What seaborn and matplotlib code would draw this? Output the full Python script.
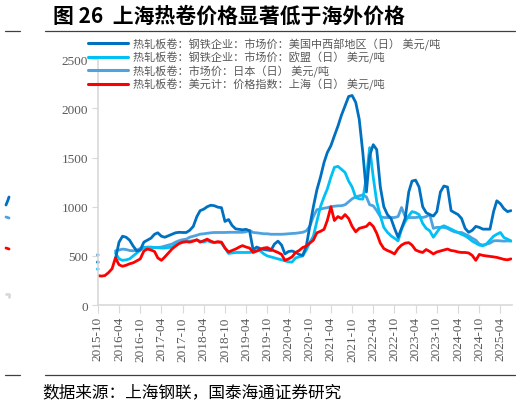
import matplotlib
matplotlib.use("Agg")
import matplotlib.pyplot as plt
import matplotlib.dates as mdates
from matplotlib.lines import Line2D
import numpy as np
import pandas as pd
import seaborn as sns

# monthly readings, 2015-10 .. 2025-07 (values in USD/t)
months = pd.date_range("2015-10-01", periods=118, freq="MS")

us_price = [np.nan] * 5 + [
    470, 640, 700, 690, 660, 600, 550, 560, 640, 660, 680, 720, 735, 700, 690,
    705, 720, 735, 740, 738, 738, 760, 800, 900, 960, 975, 1000, 1015, 1010, 995,
    990, 850, 870, 810, 775, 770, 765, 770, 755, 560, 590, 575, 565, 560, 555,
    620, 650, 610, 520, 545, 550, 535, 515, 505, 600, 800, 1000, 1170, 1300, 1450,
    1550, 1620, 1720, 1820, 1930, 2025, 2120, 2130, 2060, 1890, 1550, 1150, 1520, 1630, 1580,
    1200, 1000, 920, 880, 780, 690, 780, 880, 1150, 1260, 1270, 1200, 1000, 940, 920,
    905, 950, 1150, 1210, 1200, 960, 940, 920, 880, 780, 740, 760, 800, 790, 772,
    772, 772, 950, 1060, 1030, 980, 950, 960]

eu_price = [np.nan] * 5 + [
    530, 470, 455, 460, 470, 500, 530, 560, 585, 590, 590, 585, 585, 580, 580,
    585, 590, 615, 635, 640, 645, 650, 655, 660, 650, 640, 655, 640, 635, 640,
    630, 580, 525, 530, 535, 535, 535, 535, 535, 540, 550, 552, 520, 500, 490,
    480, 470, 460, 450, 440, 437, 480, 490, 500, 560, 637, 700, 850, 1000, 1100,
    1180, 1300, 1400, 1410, 1380, 1348, 1260, 1200, 1094, 1080, 1077, 1300, 1600, 1300, 1050,
    907, 790, 740, 704, 680, 653, 772, 850, 907, 950, 940, 920, 830, 780, 755,
    690, 740, 790, 806, 790, 772, 755, 738, 720, 704, 680, 650, 630, 610, 603,
    620, 660, 700, 720, 738, 687, 670, 653]

jp_price = [np.nan] * 5 + [
    552, 560, 569, 565, 555, 552, 560, 575, 586, 586, 586, 586, 586, 590, 600,
    610, 620, 640, 655, 665, 670, 690, 700, 710, 721, 725, 730, 735, 738, 738,
    738, 738, 740, 740, 740, 740, 740, 745, 760, 738, 735, 730, 725, 725, 720,
    720, 720, 720, 722, 725, 728, 730, 735, 740, 755, 800, 900, 970, 975, 985,
    990, 1000, 1005, 1009, 1010, 1020, 1050, 1080, 1100, 1110, 1120, 1100, 1020, 1009, 960,
    900, 890, 890, 890, 890, 900, 992, 900, 890, 890, 890, 895, 890, 900, 920,
    780, 790, 790, 790, 780, 760, 745, 738, 738, 720, 704, 680, 660, 620, 610,
    620, 630, 653, 655, 653, 650, 653, 650]

sh_price = [
    300, 295, 300, 330, 370, 480, 410, 395, 405, 420, 430, 450, 470, 550, 570,
    560, 545, 480, 455, 490, 530, 570, 600, 625, 640, 645, 640, 650, 665, 640,
    655, 670, 650, 637, 645, 640, 580, 540, 555, 570, 590, 605, 590, 580, 535,
    550, 565, 580, 585, 565, 550, 535, 515, 455, 470, 490, 535, 555, 585, 600,
    630, 660, 735, 750, 770, 860, 1000, 860, 900, 880, 920, 880, 800, 745, 780,
    790, 800, 835, 800, 730, 630, 575, 555, 540, 520, 575, 610, 630, 635, 610,
    560, 545, 535, 565, 545, 520, 540, 550, 560, 570, 555, 550, 540, 535, 535,
    530, 505, 455, 515, 505, 500, 495, 490, 485, 475, 465, 460, 470]

# isolated first readings in 2015-10
first_us, first_eu, first_jp = 437, 366, 510

labels = [
    "热轧板卷：钢铁企业：市场价：美国中西部地区（日） 美元/吨",
    "热轧板卷：钢铁企业：市场价：欧盟（日） 美元/吨",
    "热轧板卷：市场价：日本（日） 美元/吨",
    "热轧板卷：美元计：价格指数：上海（日） 美元/吨",
]
colors = ["#0070C0", "#00C0F4", "#4DA3DF", "#FF0000"]

df = pd.DataFrame({"date": months, "us": us_price, "eu": eu_price,
                   "jp": jp_price, "sh": sh_price})

sns.set_style("white")
plt.rcParams["font.family"] = ["Noto Sans CJK SC", "DejaVu Sans"]

fig = plt.figure(figsize=(5.23, 4.06), dpi=100)
ax = fig.add_axes([0.187, 0.246, 0.792, 0.606])

lw = 2.0
sns.lineplot(data=df, x="date", y="jp", color=colors[2], lw=lw, ax=ax)
sns.lineplot(data=df, x="date", y="eu", color=colors[1], lw=lw, ax=ax)
sns.lineplot(data=df, x="date", y="us", color=colors[0], lw=lw, ax=ax)
sns.lineplot(data=df, x="date", y="sh", color=colors[3], lw=lw, ax=ax)
first = pd.DataFrame({"date": [months[0]] * 3, "v": [first_us, first_eu, first_jp]})
sns.scatterplot(data=first, x="date", y="v", hue=[0, 1, 2],
                palette=[colors[0], colors[1], colors[2]], s=6, linewidth=0,
                legend=False, ax=ax, clip_on=False)

ax.set_ylim(0, 2500)
ax.set_xlim(months[0], pd.Timestamp("2025-07-10"))
ax.set_yticks(range(0, 2501, 500))
ax.xaxis.set_major_locator(mdates.MonthLocator(bymonth=[4, 10]))
ax.xaxis.set_major_formatter(mdates.DateFormatter("%Y-%m"))
ax.set_xlabel("")
ax.set_ylabel("")

for s in ["top", "right"]:
    ax.spines[s].set_visible(False)
for s in ["left", "bottom"]:
    ax.spines[s].set_color("#D9D9D9")
    ax.spines[s].set_linewidth(1.2)

ax.tick_params(axis="both", which="both", direction="out", color="#D9D9D9",
               labelcolor="#595959")
ax.tick_params(axis="y", length=4, pad=3, left=True)
ax.tick_params(axis="x", length=6, pad=2, bottom=True, rotation=90)
for t in ax.get_xticklabels() + ax.get_yticklabels():
    t.set_fontfamily("Liberation Serif")
    t.set_fontsize(9.5)

handles = [Line2D([0], [0], color=c, lw=2.2) for c in colors]
fig.legend(handles, labels, loc="upper left", bbox_to_anchor=(0.168, 0.905),
           frameon=False, fontsize=8, handlelength=3.6, handletextpad=0.5,
           labelspacing=0.12, borderpad=0, borderaxespad=0,
           labelcolor="#595959")

# title, rules and source
fig.text(0.102, 0.96, "图 26  上海热卷价格显著低于海外价格", fontsize=15,
         fontweight="bold", va="center", ha="left", color="#000000")
for yy in [1 - 32 / 406, 1 - 376 / 406]:
    fig.add_artist(Line2D([5 / 523, 20 / 523], [yy, yy], color="#404040", lw=0.9))
    fig.add_artist(Line2D([45 / 523, 515 / 523], [yy, yy], color="#404040", lw=0.9))
fig.text(0.08, 1 - 393 / 406, "数据来源：上海钢联，国泰海通证券研究", fontsize=12,
         va="center", ha="left", color="#000000")

# small clipped fragments at the left edge of the picture
frags = [("#0070C0", [6, 8, 9], [206, 201, 198]),
         ("#4DA3DF", [6, 9], [218, 219]),
         ("#FF0000", [6, 9], [249, 250]),
         ("#D9D9D9", [6, 9, 9], [295, 295, 298])]
for c, xs, ys in frags:
    fig.add_artist(Line2D([v / 523 for v in xs], [1 - v / 406 for v in ys],
                          color=c, lw=2.0))

fig.savefig("out.png", dpi=100)
